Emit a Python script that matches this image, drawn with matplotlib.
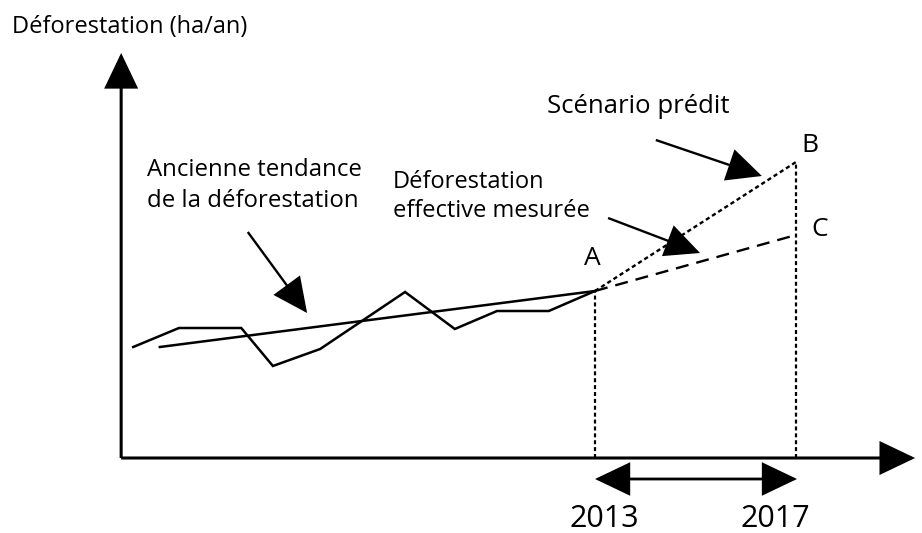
import numpy as np
import matplotlib
matplotlib.use('Agg')
from matplotlib import pyplot as plt
from matplotlib.patches import FancyArrowPatch

plt.rcParams['font.family'] = ['Open Sans', 'DejaVu Sans']

# observed deforestation (schematic, arbitrary units)
years_obs = [2003.81, 2004.72, 2005.96, 2006.59, 2007.53, 2009.22, 2010.21, 2011.05, 2012.08, 2013.0]
defor_obs = [11.1, 13.0, 13.0, 9.2, 10.9, 16.6, 12.9, 14.7, 14.7, 16.7]

# old trend
trend_years = [2004.34, 2013.0]
trend_vals = [11.1, 16.7]

# predicted scenario (A -> B) and measured (A -> C)
proj_years = [2013, 2017]
scenario_vals = [16.7, 29.6]
measured_vals = [16.7, 22.3]

ylabel = 'Déforestation (ha/an)'
lbl_old = 'Ancienne tendance\nde la déforestation'
lbl_meas = 'Déforestation\neffective mesurée'
lbl_scen = 'Scénario prédit'

x0, y0 = 2003.57, 0.0     # axis origin
x_end, y_end = 2019.37, 40.5

fig = plt.figure(figsize=[9.22, 5.33], dpi=100)
ax = fig.add_axes([0, 0, 1, 1])
ax.set_xlim(2001.159, 2019.507)
ax.set_ylim(-7.5, 45.8)
ax.axis('off')

def arrow(p1, p2, style='-|>', lw=1.7):
    a = FancyArrowPatch(p1, p2, arrowstyle=style + ',head_length=22,head_width=10.5',
                        mutation_scale=1, lw=lw, color='black',
                        shrinkA=0, shrinkB=0, joinstyle='miter', capstyle='butt')
    ax.add_patch(a)

# axes with arrow heads
arrow((x0, y0), (x0, y_end), lw=2.2)
arrow((x0, y0), (x_end, y0), lw=2.2)

# data lines
ax.plot(years_obs, defor_obs, c='black', lw=1.8, solid_joinstyle='miter')
ax.plot(trend_years, trend_vals, c='black', lw=1.8)
ax.plot(proj_years, scenario_vals, c='black', lw=1.7, linestyle=(0, (1.8, 1.3)))
ax.plot(proj_years, measured_vals, c='black', lw=1.7, linestyle=(0, (5.5, 3.4)))

# vertical dotted lines at 2013 and 2017
ax.plot([proj_years[0]] * 2, [0, scenario_vals[0]], c='black', lw=1.6, linestyle=(0, (1.8, 1.3)))
ax.plot([proj_years[1]] * 2, [0, scenario_vals[1]], c='black', lw=1.6, linestyle=(0, (1.8, 1.3)))

# double arrow between the years
arrow((proj_years[0], -2.1), (proj_years[1] + 0.02, -2.1), style='<|-|>', lw=2.0)

# labels of the years
ax.annotate('2013', (proj_years[0], 0), xytext=(9, -69), textcoords='offset pixels',
            ha='center', va='baseline', fontsize=22)
ax.annotate('2017', (proj_years[1], 0), xytext=(-21, -69), textcoords='offset pixels',
            ha='center', va='baseline', fontsize=22)

# points A, B, C
ax.annotate('A', (proj_years[0], scenario_vals[0]), xytext=(-3, 26), textcoords='offset pixels',
            ha='center', va='baseline', fontsize=19)
ax.annotate('B', (proj_years[1], scenario_vals[1]), xytext=(14, 10), textcoords='offset pixels',
            ha='center', va='baseline', fontsize=19)
ax.annotate('C', (proj_years[1], measured_vals[1]), xytext=(24, -1), textcoords='offset pixels',
            ha='center', va='baseline', fontsize=19)

# annotation arrows
arrow((2006.09, 22.6), (2007.27, 14.5))
arrow((2013.26, 24.0), (2015.09, 20.5))
arrow((2014.21, 31.8), (2016.32, 28.2))

W, H = 922, 533
fig.text(12 / W, 1 - 33 / H, ylabel, fontsize=17, va='baseline')
fig.text(547 / W, 1 - 113 / H, lbl_scen, fontsize=18.5, va='baseline')
fig.text(147 / W, 1 - 207 / H, lbl_old, fontsize=17.3, va='baseline', linespacing=1.38)
fig.text(393 / W, 1 - 217 / H, lbl_meas, fontsize=17, va='baseline', linespacing=1.3)

fig.savefig('out.png', dpi=100)
